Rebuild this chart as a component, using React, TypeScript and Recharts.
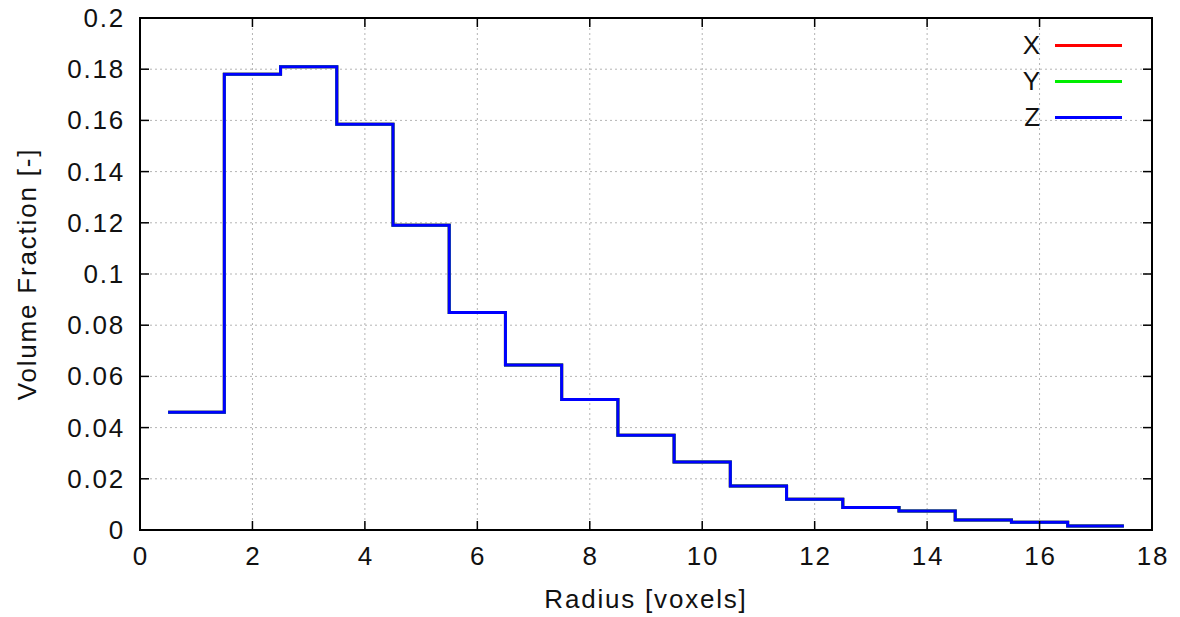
import {
  LineChart,
  Line,
  XAxis,
  YAxis,
  CartesianGrid,
  Legend,
  ReferenceArea
} from 'recharts'

// pore radius bins (centres, voxels) and the volume fraction in each bin
const radius = [1, 2, 3, 4, 5, 6, 7, 8, 9, 10, 11, 12, 13, 14, 15, 16, 17]
const fractionX = [0.046, 0.178, 0.181, 0.1585, 0.119, 0.085, 0.0645, 0.051, 0.037, 0.0266, 0.0172, 0.012, 0.0088, 0.0074, 0.0039, 0.003, 0.0016]
const fractionY = [0.046, 0.178, 0.181, 0.1585, 0.119, 0.085, 0.0645, 0.051, 0.037, 0.0266, 0.0172, 0.012, 0.0088, 0.0074, 0.0039, 0.003, 0.0016]
const fractionZ = [0.046, 0.178, 0.181, 0.1585, 0.119, 0.085, 0.0645, 0.051, 0.037, 0.0266, 0.0172, 0.012, 0.0088, 0.0074, 0.0039, 0.003, 0.0016]

const xTicks = [0, 2, 4, 6, 8, 10, 12, 14, 16, 18]
const yTicks = [0, 0.02, 0.04, 0.06, 0.08, 0.1, 0.12, 0.14, 0.16, 0.18, 0.2]

const WIDTH = 1180
const HEIGHT = 617
const MARGIN = { top: 18, right: 28, left: 0, bottom: 0 }
const Y_AXIS_W = 140
const X_AXIS_H = 87
const PLOT_W = WIDTH - Y_AXIS_W - MARGIN.right
const PLOT_H = HEIGHT - MARGIN.top - X_AXIS_H

const FONT = '"Liberation Sans", Arial, Helvetica, sans-serif'
const FONT_SIZE = 26
const SPACING = 1.8
const TICK_LEN = 9

// histogram edges: each bin drawn as a flat step from r-0.5 to r+0.5
const data = radius
  .map((r, i) => ({ r: r - 0.5, X: fractionX[i], Y: fractionY[i], Z: fractionZ[i] }))
  .concat([{
    r: radius[radius.length - 1] + 0.5,
    X: fractionX[fractionX.length - 1],
    Y: fractionY[fractionY.length - 1],
    Z: fractionZ[fractionZ.length - 1]
  }])

// gnuplot style: ticks point inwards and are mirrored on the opposite border
function BottomTick({ x, y, payload }: any) {
  return (
    <g>
      <line x1={x} y1={y} x2={x} y2={y - TICK_LEN} stroke="#000" strokeWidth={1.5} />
      <line x1={x} y1={y - PLOT_H} x2={x} y2={y - PLOT_H + TICK_LEN} stroke="#000" strokeWidth={1.5} />
      <text x={x + SPACING / 2} y={y + 35} textAnchor="middle" fill="#111" fontSize={FONT_SIZE} letterSpacing={SPACING} fontFamily={FONT}>
        {payload.value}
      </text>
    </g>
  )
}

function LeftTick({ x, y, payload }: any) {
  return (
    <g>
      <line x1={x} y1={y} x2={x + TICK_LEN} y2={y} stroke="#000" strokeWidth={1.5} />
      <line x1={x + PLOT_W} y1={y} x2={x + PLOT_W - TICK_LEN} y2={y} stroke="#000" strokeWidth={1.5} />
      <text x={x - 15} y={y + 9} textAnchor="end" fill="#111" fontSize={FONT_SIZE} letterSpacing={SPACING} fontFamily={FONT}>
        {payload.value}
      </text>
    </g>
  )
}

function KeyBox({ payload }: any) {
  return (
    <div style={{ fontFamily: FONT, fontSize: FONT_SIZE, letterSpacing: SPACING, color: '#111' }}>
      {payload.map((item: any) => (
        <div key={item.value} style={{ display: 'flex', alignItems: 'center', height: 36, justifyContent: 'flex-end' }}>
          <span style={{ marginRight: 13 }}>{item.value}</span>
          <span style={{ display: 'inline-block', width: 67, height: 3, background: item.color }} />
        </div>
      ))}
    </div>
  )
}

export default function App() {
  return (
    <div style={{ position: 'absolute', left: 0, top: 0, background: '#fff' }}>
      <LineChart width={WIDTH} height={HEIGHT} data={data} margin={MARGIN}>
        <CartesianGrid stroke="#b4b4b4" strokeDasharray="2 3" />
        <XAxis
          dataKey="r"
          type="number"
          domain={[0, 18]}
          ticks={xTicks}
          height={X_AXIS_H}
          tickSize={0}
          tickMargin={0}
          tick={<BottomTick />}
          axisLine={{ stroke: '#000', strokeWidth: 2 }}
          label={{ value: 'Radius [voxels]', position: 'insideBottom', offset: 9, fontSize: FONT_SIZE, letterSpacing: SPACING, fill: '#111', fontFamily: FONT }}
        />
        <YAxis
          type="number"
          domain={[0, 0.2]}
          ticks={yTicks}
          width={Y_AXIS_W}
          tickSize={0}
          tickMargin={0}
          tick={<LeftTick />}
          axisLine={{ stroke: '#000', strokeWidth: 2 }}
          label={{ value: 'Volume Fraction [-]', angle: -90, position: 'insideLeft', offset: 27, fontSize: FONT_SIZE, letterSpacing: SPACING, fill: '#111', fontFamily: FONT, style: { textAnchor: 'middle' } }}
        />
        <ReferenceArea x1={0} x2={18} y1={0} y2={0.2} fill="none" stroke="#000" strokeWidth={2} />
        <Line type="stepAfter" dataKey="X" stroke="#ff0000" strokeWidth={3} dot={false} isAnimationActive={false} />
        <Line type="stepAfter" dataKey="Y" stroke="#00ee00" strokeWidth={3} dot={false} isAnimationActive={false} />
        <Line type="stepAfter" dataKey="Z" stroke="#0000ff" strokeWidth={3} dot={false} isAnimationActive={false} />
        <Legend
          layout="vertical"
          align="center"
          verticalAlign="middle"
          content={<KeyBox />}
          wrapperStyle={{ top: 27, left: 990, width: 132 }}
        />
      </LineChart>
    </div>
  )
}
